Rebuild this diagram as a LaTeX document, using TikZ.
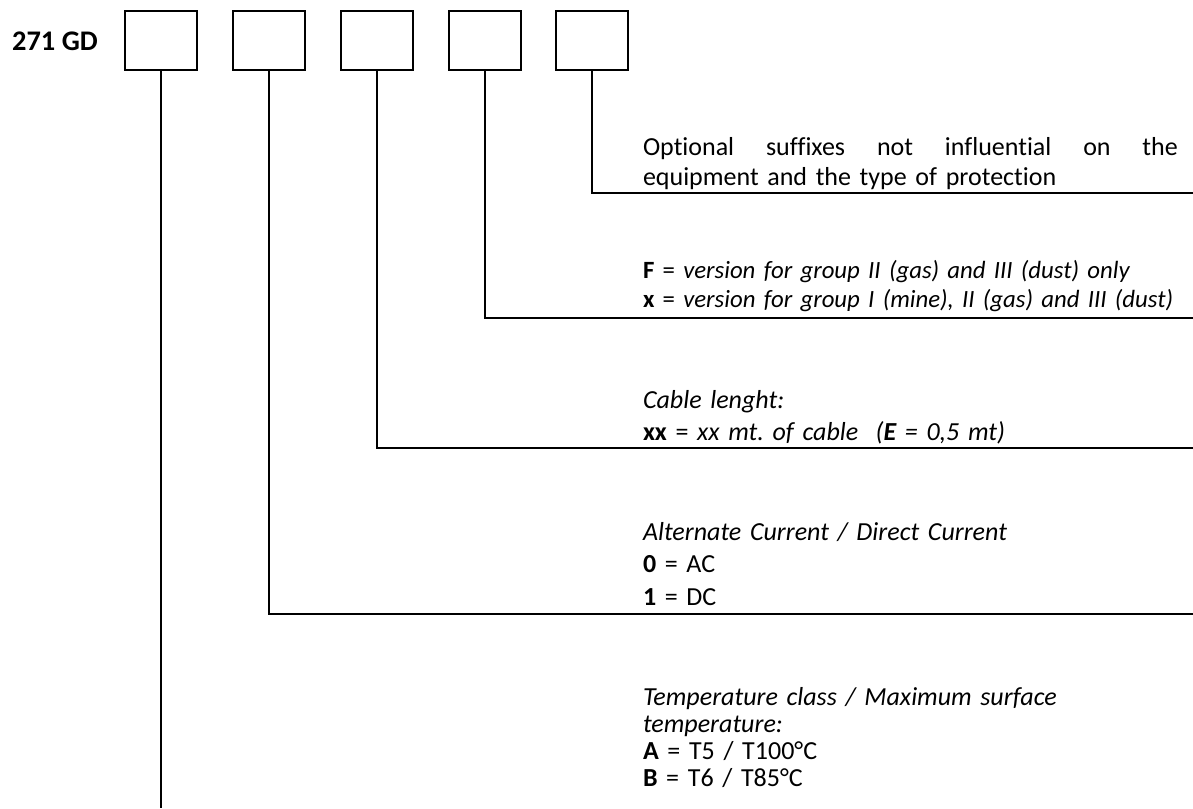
\documentclass[tikz,border=0pt]{standalone}
\usepackage{fontspec}
\setmainfont{Carlito}[Ligatures=NoCommon]
\newcommand\bodyfnt[2]{\fontsize{#1}{#2}\selectfont\frenchspacing}
\newcommand\headfnt{\fontsize{28.4}{34}\selectfont\bfseries}
\tikzset{
  codebox/.style={draw, line width=2.2pt, minimum width=72pt, minimum height=59pt, inner sep=0pt},
  leader/.style={line width=2.4pt},
  desc/.style={anchor=base west, inner sep=0pt, outer sep=0pt, text width=545pt, align=left},
}
\begin{document}
\begin{tikzpicture}[x=1pt,y=-1pt]
\useasboundingbox (0,0) rectangle (1193,808);
\node[anchor=base west, inner sep=0pt, font=\headfnt] (title) at (12,51) {271 GD};
\node[codebox] (b1) at (161,40.5) {};
\node[codebox] (b2) at (269,40.5) {};
\node[codebox] (b3) at (377,40.5) {};
\node[codebox] (b4) at (485,40.5) {};
\node[codebox] (b5) at (592,40.5) {};
\coordinate (e5) at (1193,193);
\coordinate (e4) at (1193,318);
\coordinate (e3) at (1193,448);
\coordinate (e2) at (1193,614);
\coordinate (e1) at (161,808);
\draw[leader] (b5.south) |- (e5);
\draw[leader] (b4.south) |- (e4);
\draw[leader] (b3.south) |- (e3);
\draw[leader] (b2.south) |- (e2);
\draw[leader] (b1.south) -- (e1);
\node[desc, font=\bodyfnt{26}{30}] (t5) at (643,155) {\hbox to 535pt{Optional\hfill suffixes\hfill not\hfill influential\hfill on\hfill the}\\equipment and the type of protection};
\node[desc, font=\bodyfnt{24.8}{29}] (t4) at (643,278) {\textbf{F} = \textit{version for group II (gas) and III (dust) only}\\\textbf{x} = \textit{version for group I (mine), II (gas) and III (dust)}};
\node[desc, font=\bodyfnt{26}{32}] (t3) at (643,408) {\textit{Cable lenght:}\\\textbf{xx} = \textit{xx mt. of cable\ \ (\textbf{E} = 0,5 mt)}};
\node[desc, font=\bodyfnt{26}{32.5}] (t2) at (643,540) {\textit{Alternate Current / Direct Current}\\\textbf{0} = AC\\\textbf{1} = DC};
\node[desc, font=\bodyfnt{26}{27}] (t1) at (643,705) {\textit{Temperature class / Maximum surface}\\\textit{temperature:}\\\textbf{A} = T5 / T100°C\\\textbf{B} = T6 / T85°C};
\end{tikzpicture}
\end{document}
